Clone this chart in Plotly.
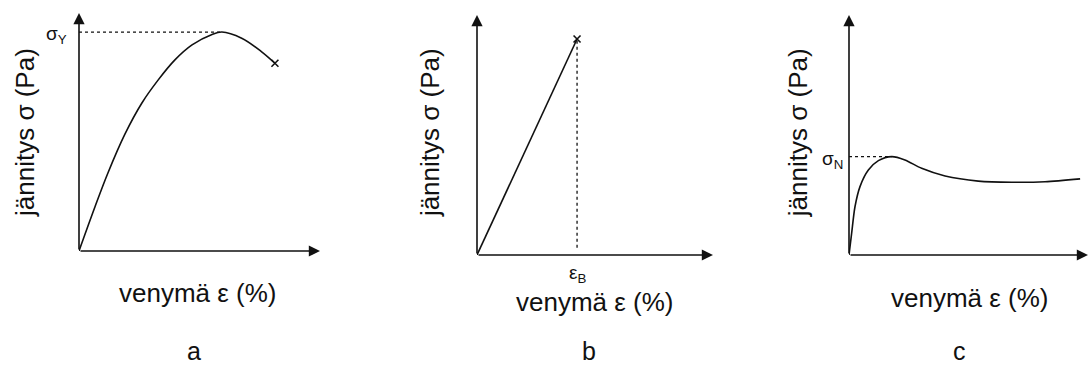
import plotly.graph_objects as go

# ---- data (arbitrary units, axes 0..10) ----
strain_a = [0.0, 0.66, 1.20, 1.91, 2.61, 3.28, 3.98, 4.69, 5.52, 5.93, 6.75, 7.58, 8.13]
stress_a = [0.0, 1.85, 3.28, 4.92, 6.22, 7.18, 8.03, 8.66, 9.10, 9.20, 8.94, 8.37, 7.89]
yield_a = 9.20
yield_strain_a = 5.93

strain_b = [0.0, 4.24]
stress_b = [0.0, 9.00]
break_strain_b = 4.24

strain_c = [0.0, 0.11, 0.25, 0.46, 0.81, 1.23, 1.79, 2.34, 3.04, 4.02, 5.41, 6.81, 8.20, 9.67]
stress_c = [0.0, 0.90, 2.01, 2.85, 3.54, 3.93, 4.10, 3.96, 3.61, 3.29, 3.08, 3.03, 3.05, 3.17]
neck_c = 4.10
neck_strain_c = 1.79

x_title = "venymä ε (%)"
y_title = "jännitys σ (Pa)"
panel_labels = ["a", "b", "c"]

FONT = "Liberation Sans, Arial, sans-serif"
INK = "#111111"
LW = 1.6

fig = go.Figure()

# panel a
fig.add_trace(go.Scatter(x=strain_a, y=stress_a, mode="lines",
                         line=dict(color=INK, width=LW, shape="spline", smoothing=1.0),
                         xaxis="x", yaxis="y", showlegend=False))
fig.add_trace(go.Scatter(x=[strain_a[-1]], y=[stress_a[-1]], mode="markers",
                         marker=dict(symbol="x-thin", size=7, line=dict(color=INK, width=1.6)),
                         xaxis="x", yaxis="y", showlegend=False))
fig.add_trace(go.Scatter(x=[0, yield_strain_a], y=[yield_a, yield_a], mode="lines",
                         line=dict(color=INK, width=1.3, dash="3px,3px"), xaxis="x", yaxis="y", showlegend=False))

# panel b
fig.add_trace(go.Scatter(x=strain_b, y=stress_b, mode="lines", line=dict(color=INK, width=LW),
                         xaxis="x2", yaxis="y2", showlegend=False))
fig.add_trace(go.Scatter(x=[strain_b[-1]], y=[stress_b[-1]], mode="markers",
                         marker=dict(symbol="x-thin", size=7, line=dict(color=INK, width=1.6)),
                         xaxis="x2", yaxis="y2", showlegend=False))
fig.add_trace(go.Scatter(x=[break_strain_b, break_strain_b], y=[0.3, stress_b[-1]], mode="lines",
                         line=dict(color=INK, width=1.3, dash="3px,3px"), xaxis="x2", yaxis="y2", showlegend=False))

# panel c
fig.add_trace(go.Scatter(x=strain_c, y=stress_c, mode="lines",
                         line=dict(color=INK, width=LW, shape="spline", smoothing=0.8),
                         xaxis="x3", yaxis="y3", showlegend=False))
fig.add_trace(go.Scatter(x=[0, neck_strain_c], y=[neck_c, neck_c], mode="lines",
                         line=dict(color=INK, width=1.3, dash="3px,3px"), xaxis="x3", yaxis="y3", showlegend=False))

W, H = 1090, 367
# pixel frames for the three panels: (x of y-axis, x arrow tip, y of x-axis, y arrow tip)
frames = [(79, 320, 251, 13), (477, 713, 255, 15), (849, 1088, 255, 15)]

axis_common = dict(range=[0, 10], showgrid=False, zeroline=False, showticklabels=False, ticks="",
                   showline=False, fixedrange=True)
layout_axes = {}
for i, (x0, x1, y0, y1) in enumerate(frames):
    s = "" if i == 0 else str(i + 1)
    layout_axes["xaxis" + s] = dict(axis_common, domain=[x0 / W, x1 / W], anchor="y" + s)
    layout_axes["yaxis" + s] = dict(axis_common, domain=[1 - y0 / H, 1 - y1 / H], anchor="x" + s)

annotations = []
label_pos = [  # (xlabel x_dom, y_dom), (panel letter x_dom, bottom y_dom), (ylabel x_dom, y_dom)
    ((0.494, -0.176), (0.477, -0.483), (-0.224, 0.496)),
    ((0.50, -0.196), (0.475, -0.463), (-0.199, 0.508)),
    ((0.506, -0.179), (0.464, -0.463), (-0.213, 0.508)),
]
title_font = dict(family=FONT, size=26, color=INK)
for i in range(3):
    s = "" if i == 0 else str(i + 1)
    xr, yr = "x" + s, "y" + s
    # axis arrows
    annotations.append(dict(x=10, y=0, ax=0, ay=0, xref=xr, yref=yr, axref=xr, ayref=yr, text="",
                            showarrow=True, arrowhead=2, arrowsize=1.4, arrowwidth=1.6, arrowcolor=INK))
    annotations.append(dict(x=0, y=10, ax=0, ay=0, xref=xr, yref=yr, axref=xr, ayref=yr, text="",
                            showarrow=True, arrowhead=2, arrowsize=1.4, arrowwidth=1.6, arrowcolor=INK))
    xl, pl, yl = label_pos[i]
    annotations.append(dict(x=xl[0], y=xl[1], xref=xr + " domain", yref=yr + " domain", text=x_title,
                            xanchor="center", yanchor="middle", showarrow=False, font=title_font))
    annotations.append(dict(x=pl[0], y=pl[1], xref=xr + " domain", yref=yr + " domain", text=panel_labels[i],
                            xanchor="center", yanchor="bottom", borderpad=0, showarrow=False,
                            font=dict(family=FONT, size=25, color=INK)))
    annotations.append(dict(x=yl[0], y=yl[1], xref=xr + " domain", yref=yr + " domain", text=y_title,
                            xanchor="center", yanchor="middle", textangle=-90, showarrow=False, font=title_font))

# special value labels
sym_font = dict(family=FONT, size=19, color=INK)
annotations.append(dict(x=0, y=yield_a, xref="x", yref="y", text="σ<sub>Y</sub>", showarrow=False,
                        xanchor="right", yanchor="middle", xshift=-10, yshift=-3, font=sym_font))
annotations.append(dict(x=break_strain_b, y=0, xref="x2", yref="y2", text="ε<sub>B</sub>", showarrow=False,
                        xanchor="center", yanchor="top", yshift=-5, font=sym_font))
annotations.append(dict(x=0, y=neck_c, xref="x3", yref="y3", text="σ<sub>N</sub>", showarrow=False,
                        xanchor="right", yanchor="middle", xshift=-4, yshift=-3, font=sym_font))

fig.update_layout(width=W, height=H, margin=dict(l=0, r=0, t=0, b=0),
                  paper_bgcolor="white", plot_bgcolor="white", showlegend=False,
                  annotations=annotations, **layout_axes)

fig.write_html("out.html", config={"displayModeBar": False})
